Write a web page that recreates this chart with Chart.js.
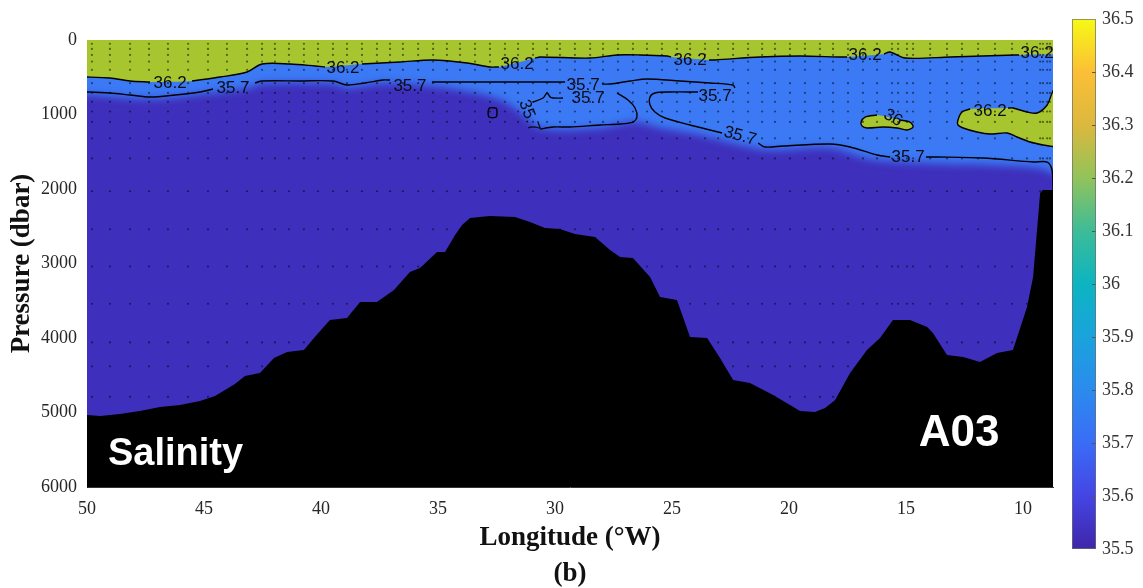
<!DOCTYPE html>
<html>
<head>
<meta charset="utf-8">
<script src="https://cdn.jsdelivr.net/npm/chart.js@4.4.0/dist/chart.umd.min.js"></script>
<style>
  html, body { margin: 0; padding: 0; background: #fff; overflow: hidden; width: 1143px; height: 588px; }
  #section { position: absolute; left: 0; top: 0; }
  #scale { position: absolute; left: 1050px; top: 0; }
</style>
</head>
<body>
<canvas id="section" width="1143" height="592"></canvas>
<canvas id="scale" width="93" height="588"></canvas>
<script>
// ---- axes ----
const lonTicks = [50, 45, 40, 35, 30, 25, 20, 15, 10];
const presTicks = [0, 1000, 2000, 3000, 4000, 5000, 6000];
const lonLimits = [8.72, 50];
const presLimits = [0, 6000];

// ---- colour scale (salinity) ----
const salinityLimits = [35.5, 36.5];
const salinityTicks = [35.5, 35.6, 35.7, 35.8, 35.9, 36.0, 36.1, 36.2, 36.3, 36.4, 36.5];
const parulaStops = [
  [35.5, '#3e26a8'], [35.6, '#4545e4'], [35.7, '#3a6cf6'], [35.8, '#2b8bee'],
  [35.9, '#1aa3dc'], [36.0, '#0db4c1'], [36.1, '#3dbc98'], [36.2, '#92c35a'],
  [36.3, '#dcb83e'], [36.4, '#fbbf36'], [36.5, '#f6f916']
];

// ---- CTD stations (°W) and bottle pressures (dbar) ----
const stationLon = [49.79, 49.02, 48.16, 47.35, 46.54, 45.68, 44.83, 44.02, 43.16, 42.52,
  41.97, 41.37, 40.73, 40.13, 39.49, 38.89, 38.25, 37.61, 37.05, 36.50, 35.85, 35.21,
  34.62, 34.06, 33.42, 32.78, 32.14, 31.58, 30.94, 30.34, 29.79, 29.15, 28.50, 27.95,
  27.31, 26.67, 26.07, 25.43, 24.79, 24.23, 23.59, 23.03, 22.39, 21.75, 21.15, 20.60,
  19.96, 19.32, 18.68, 18.12, 17.48, 16.84, 16.24, 15.60, 15.34, 14.96, 14.70, 13.97,
  13.25, 12.61, 11.92, 11.20, 10.47, 9.83, 9.27, 9.15, 8.97, 8.85];
const bottlePres = [50, 120, 200, 290, 400, 580, 710, 830, 960, 1100, 1320, 1590,
  2030, 2540, 3040, 3540, 4060, 4380, 4790];

// ---- sea floor ----
const floorLon = [50.5, 50.00, 49.44, 48.59, 47.74, 46.88, 46.03, 45.17, 44.53, 44.10,
  43.68, 43.25, 42.61, 42.01, 41.45, 40.73, 40.30, 39.62, 38.89, 38.33, 37.61, 36.88,
  36.20, 35.77, 35.04, 34.70, 34.27, 33.97, 33.63, 32.78, 31.71, 31.07, 30.43, 29.79,
  29.15, 28.29, 27.65, 27.22, 26.67, 25.94, 25.51, 24.79, 24.23, 23.50, 22.95, 22.39,
  21.67, 20.68, 19.96, 19.53, 18.89, 18.46, 18.03, 17.39, 16.67, 16.11, 15.56, 14.83,
  14.10, 13.85, 13.25, 12.56, 11.84, 11.11, 10.43, 9.83, 9.57, 9.27, 9.15, 8.4];
const floorPres = [5034, 5034, 5047, 5020, 4980, 4926, 4899, 4846, 4779, 4698,
  4617, 4510, 4470, 4268, 4188, 4161, 4000, 3758, 3732, 3517, 3517, 3356,
  3114, 3060, 2846, 2846, 2617, 2483, 2389, 2362, 2376, 2443, 2523, 2537,
  2604, 2644, 2819, 2913, 2926, 3181, 3450, 3490, 3987, 4000, 4268, 4564,
  4604, 4765, 4899, 4980, 4993, 4940, 4832, 4470, 4161, 4000, 3758, 3758,
  3852, 3933, 4228, 4255, 4322, 4201, 4161, 3584, 3181, 2054, 2013, 2013];

// ---- 36.2 isohaline under the salty surface layer (pieces split at labels) ----
const iso362Surface = [
  [[50.5, 497], [50.00, 497], [49.02, 510], [48.16, 550], [47.31, 564]],
  [[45.51, 550], [44.32, 497], [43.16, 430], [42.52, 322], [41.32, 322], [40.26, 349], [39.83, 362]],
  [[38.25, 322], [36.62, 295], [35.21, 268], [33.76, 309], [32.78, 362], [32.40, 362]],
  [[30.85, 242], [30.64, 228], [28.50, 242], [27.35, 201], [26.37, 201], [25.21, 215], [25.04, 228]],
  [[23.42, 268], [23.16, 268], [21.24, 228], [19.53, 215], [17.82, 228], [17.52, 228]],
  [[15.94, 188], [15.68, 161], [15.04, 242], [13.12, 228], [10.34, 201], [10.17, 201]]
];
// salty lens near 15–17°W (closed, label gap between last and first point)
const iso362Lens = [[15.26, 1074], [14.83, 1101], [14.70, 1168], [14.96, 1208], [15.38, 1181],
  [15.98, 1168], [16.67, 1181], [16.88, 1154], [16.92, 1101], [16.75, 1034], [16.24, 1007]];
// salty tongue against the eastern slope (closed)
const iso362Shelf = [[10.64, 913], [10.43, 913], [9.83, 966], [9.40, 980], [8.97, 872],
  [8.76, 711], [8.63, 644], [8.42, 644], [8.42, 1477], [8.63, 1436], [9.15, 1409],
  [9.70, 1369], [10.26, 1302], [10.68, 1248], [11.41, 1262], [11.97, 1235], [12.56, 1181],
  [12.78, 1141], [12.78, 1074], [12.61, 966], [12.26, 926]];

// ---- 35.7 isohaline ----
const iso357Main = [
  [[50.5, 698], [50.00, 698], [49.02, 711], [48.16, 738], [47.31, 765], [46.24, 738], [45.17, 698], [44.62, 658]],
  [[42.82, 577], [42.52, 550], [40.90, 550], [39.49, 550], [38.89, 604], [38.12, 577], [37.35, 537], [37.05, 537]],
  [[35.26, 564], [33.21, 564], [31.50, 564], [29.91, 564], [29.57, 564]],
  [[27.99, 591], [27.65, 591], [26.79, 550], [26.07, 523], [24.66, 550], [23.38, 577], [22.39, 604], [22.31, 644]],
  [[23.89, 698], [25.09, 698], [25.73, 711], [25.94, 765], [25.94, 872], [25.73, 966], [25.30, 1047],
   [24.23, 1141], [23.38, 1208], [22.86, 1248]],
  [[21.32, 1383], [21.03, 1436], [20.26, 1423], [18.25, 1396], [17.39, 1436], [16.24, 1544], [15.68, 1570]],
  [[14.15, 1570], [13.68, 1570], [11.71, 1584], [9.57, 1638], [8.97, 1638], [8.76, 1745], [8.72, 1973], [8.7, 2100]]
];
const iso357Loop = [
  [[30.94, 832], [30.51, 779], [30.34, 711], [30.21, 765], [30.09, 779], [29.66, 779]],
  [[27.35, 711], [26.88, 805], [26.58, 913], [26.50, 1034], [26.67, 1101], [27.22, 1128],
   [28.08, 1141], [29.36, 1168], [30.09, 1168], [30.64, 1195]]
];
const iso357Ring = [[32.82, 913], [32.52, 913], [32.48, 966], [32.52, 1034], [32.82, 1034], [32.86, 966], [32.82, 913]];

// lower edge of the 35.7–36.2 water
const midBase = [[51, 730], [50.00, 730], [47.31, 790], [45.17, 725], [43.03, 640], [42.52, 585],
  [39.49, 585], [38.89, 640], [37.35, 580], [35.21, 620], [33.63, 698], [32.35, 805], [31.50, 966],
  [30.64, 1181], [28.08, 1181], [26.58, 1101], [25.51, 1181], [23.80, 1275], [22.09, 1409],
  [20.81, 1477], [18.25, 1450], [16.54, 1600], [13.55, 1660], [10.98, 1680], [9.27, 1720],
  [8.85, 1772], [8.0, 1879]];

// contour labels: text, lon, pressure, rotation (deg)
const isoLabels = [
  ['36.2', 46.45, 584, 0], ['36.2', 39.06, 382, 0], ['36.2', 31.62, 329, 0],
  ['36.2', 24.23, 268, 0], ['36.2', 16.75, 201, 0], ['36.2', 9.40, 181, 0],
  ['36.2', 11.41, 960, 0], ['36', 15.56, 1047, 30],
  ['35.7', 43.76, 644, 0], ['35.7', 36.20, 617, 0], ['35.7', 28.80, 604, 0],
  ['35.7', 28.59, 779, 0], ['35.7', 31.11, 1020, 70], ['35.7', 23.16, 752, 0],
  ['35.7', 22.09, 1289, 15], ['35.7', 14.91, 1570, 0]
];

// ---- colours ----
const GREEN = '#a7c52e', BLUE = '#3b7af4', PURPLE = '#3e2fbc';

// ---- helpers ----
const pts = arr => arr.map(([x, y]) => ({x, y}));
const joined = pieces => {
  const out = [];
  pieces.forEach((pc, i) => {
    if (i) out.push({x: pc[0][0], y: null});
    pc.forEach(([x, y]) => out.push({x, y}));
  });
  return out;
};
const closed = arr => pts(arr.concat([arr[0]]));

const stationPts = [];
stationLon.forEach(x => bottlePres.forEach(y => stationPts.push({x, y})));
const floorPts = floorLon.map((x, i) => ({x, y: floorPres[i]}));

const surfaceFill = pts(iso362Surface.flat().concat([[8.0, 188]]));
const lensLine = pts(iso362Lens);
const shelfLine = pts(iso362Shelf);

const area = (label, data, color, fill, order, tension) => ({
  label, data, showLine: true, fill, backgroundColor: color, borderWidth: 0,
  pointRadius: 0, tension: tension || 0, order
});
const contour = (label, data, order) => ({
  label, data, showLine: true, fill: false, borderColor: '#000', borderWidth: 1.4,
  pointRadius: 0, tension: 0.3, spanGaps: false, order
});

// blurs the edge of the intermediate water so it fades into the deep water
const haze = {
  id: 'haze',
  afterDatasetDraw(chart, args) {
    if (chart.data.datasets[args.index].label === 'deep') chart.ctx.filter = 'blur(4px)';
  },
  beforeDatasetDraw(chart, args) {
    if (chart.data.datasets[args.index].label === 'mid') chart.ctx.filter = 'none';
  }
};

const annotate = {
  id: 'annotate',
  afterDatasetsDraw(chart) {
    const {ctx, chartArea: a, scales: {x, y}} = chart;
    ctx.save();
    ctx.beginPath();
    ctx.rect(a.left, a.top, a.right - a.left, a.bottom - a.top);
    ctx.clip();
    ctx.font = '17px "Liberation Sans", Arial, sans-serif';
    ctx.fillStyle = '#0b0b18';
    ctx.textAlign = 'center';
    ctx.textBaseline = 'middle';
    isoLabels.forEach(([t, lon, p, r]) => {
      ctx.save();
      ctx.translate(x.getPixelForValue(lon), y.getPixelForValue(p));
      ctx.rotate(r * Math.PI / 180);
      ctx.fillText(t, 0, 0);
      ctx.restore();
    });
    ctx.fillStyle = '#fff';
    ctx.font = 'bold 38px "Liberation Sans", Arial, sans-serif';
    ctx.textAlign = 'left';
    ctx.fillText('Salinity', a.left + 21, a.bottom - 32);
    ctx.font = 'bold 44px "Liberation Sans", Arial, sans-serif';
    ctx.textAlign = 'center';
    ctx.fillText('A03', a.right - 94, a.bottom - 53);
    ctx.restore();
  }
};

const serif = '"Liberation Serif", "Times New Roman", serif';

new Chart(document.getElementById('section'), {
  type: 'scatter',
  data: {
    datasets: [
      area('deep', [{x: lonLimits[1] + 1, y: presLimits[1]}, {x: lonLimits[0] - 1, y: presLimits[1]}], PURPLE, {value: presLimits[0]}, 20),
      area('mid', pts(midBase), BLUE, {value: presLimits[0]}, 19, 0.35),
      area('surface', surfaceFill, GREEN, {value: presLimits[0]}, 18, 0.3),
      area('lens', closed(iso362Lens), GREEN, 'shape', 17, 0.3),
      area('shelf', closed(iso362Shelf), GREEN, 'shape', 16, 0.3),
      {label: 'stations', data: stationPts, showLine: false, pointRadius: 1.1, pointBorderWidth: 0,
       pointBackgroundColor: 'rgba(0,0,0,0.5)', order: 15},
      area('floor', floorPts, '#000', {value: presLimits[1]}, 14, 0),
      contour('36.2', joined(iso362Surface), 6),
      contour('36.2 lens', lensLine, 5),
      contour('36.2 shelf', shelfLine, 4),
      contour('35.7', joined(iso357Main), 3),
      contour('35.7 loop', joined(iso357Loop), 2),
      contour('35.7 ring', pts(iso357Ring), 1)
    ]
  },
  options: {
    responsive: false,
    animation: false,
    devicePixelRatio: 1,
    layout: {padding: {left: 0, top: 40, right: 90, bottom: 0}},
    plugins: {legend: {display: false}, tooltip: {enabled: false}},
    scales: {
      x: {
        type: 'linear', reverse: true, min: lonLimits[0], max: lonLimits[1],
        afterBuildTicks: s => { s.ticks = lonTicks.map(v => ({value: v})); },
        afterFit: s => { s.height = 105; },
        grid: {display: false, drawTicks: false},
        border: {display: true, color: '#333', width: 1},
        ticks: {padding: 11, color: '#262626', font: {family: serif, size: 18}, callback: v => String(v), maxRotation: 0},
        title: {display: true, text: ['Longitude (°W)', '(b)'], color: '#111',
                font: {family: serif, size: 27, weight: 'bold', lineHeight: 1.333}, padding: {top: 0, bottom: 0}}
      },
      y: {
        type: 'linear', reverse: true, min: presLimits[0], max: presLimits[1],
        afterBuildTicks: s => { s.ticks = presTicks.map(v => ({value: v})); },
        afterFit: s => { s.width = 87; },
        grid: {display: false, drawTicks: false},
        border: {display: true, color: '#222', width: 1},
        ticks: {padding: 10, color: '#262626', font: {family: serif, size: 18}, callback: v => String(v)},
        title: {display: true, text: 'Pressure (dbar)', color: '#111',
                font: {family: serif, size: 27, weight: 'bold', lineHeight: 1.333}, padding: {top: 4, bottom: 0}}
      }
    }
  },
  plugins: [haze, annotate]
});

// ---- colour bar ----
const barTicks = {
  id: 'barTicks',
  afterDatasetsDraw(chart) {
    const {ctx, chartArea: a, scales: {y}} = chart;
    ctx.save();
    ctx.strokeStyle = '#555';
    ctx.lineWidth = 1;
    salinityTicks.slice(1, -1).forEach(v => {
      const py = Math.round(y.getPixelForValue(v)) + 0.5;
      ctx.beginPath();
      ctx.moveTo(a.right - 4, py);
      ctx.lineTo(a.right, py);
      ctx.stroke();
    });
    ctx.strokeStyle = 'rgba(110,110,110,0.7)';
    ctx.strokeRect(a.left + 0.5, a.top + 0.5, a.right - a.left - 1, a.bottom - a.top - 1);
    ctx.restore();
  }
};

new Chart(document.getElementById('scale'), {
  type: 'bar',
  data: {
    labels: [''],
    datasets: [{
      data: [salinityLimits],
      borderWidth: 0,
      barPercentage: 1,
      categoryPercentage: 1,
      backgroundColor(context) {
        const {chart} = context;
        const a = chart.chartArea;
        if (!a) return PURPLE;
        const ys = chart.scales.y;
        const g = chart.ctx.createLinearGradient(0, a.bottom, 0, a.top);
        parulaStops.forEach(([v, c]) => {
          g.addColorStop((ys.getPixelForValue(v) - a.bottom) / (a.top - a.bottom), c);
        });
        return g;
      }
    }]
  },
  options: {
    responsive: false,
    animation: false,
    devicePixelRatio: 1,
    layout: {padding: {left: 22, top: 19, bottom: 39, right: 0}},
    plugins: {legend: {display: false}, tooltip: {enabled: false}},
    scales: {
      x: {display: false},
      y: {
        position: 'right', min: salinityLimits[0], max: salinityLimits[1],
        afterBuildTicks: s => { s.ticks = salinityTicks.map(v => ({value: v})); },
        afterFit: s => { s.width = 47; },
        grid: {display: false, drawTicks: false},
        border: {display: false},
        ticks: {padding: 6, color: '#333', font: {family: serif, size: 18}, callback: v => String(+v.toFixed(1))}
      }
    }
  },
  plugins: [barTicks]
});
</script>
</body>
</html>
